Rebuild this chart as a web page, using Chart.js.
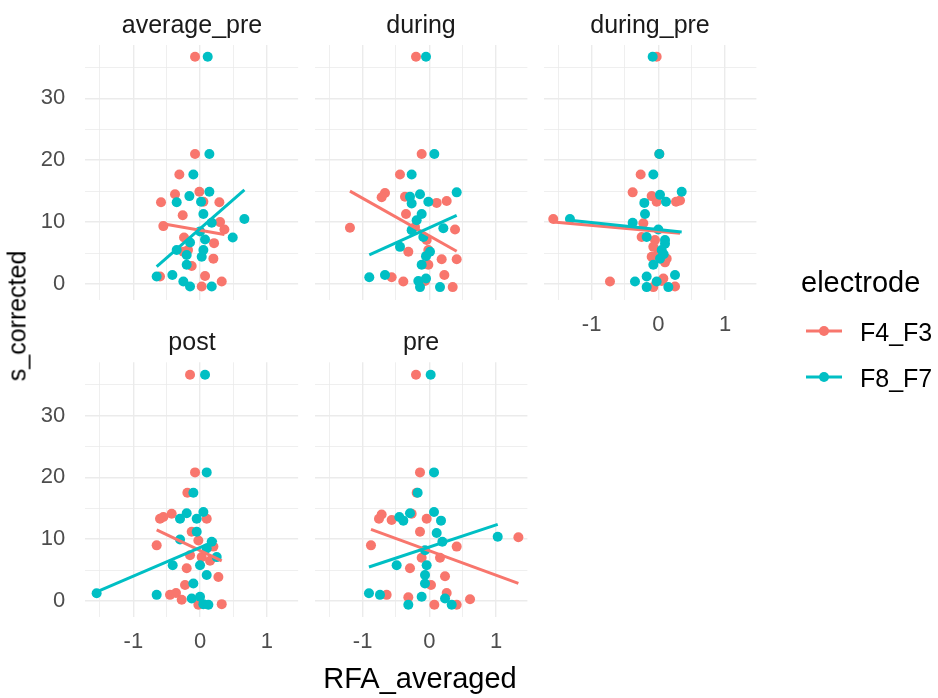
<!DOCTYPE html>
<html>
<head>
<meta charset="utf-8">
<script src="https://cdn.jsdelivr.net/npm/chart.js@4/dist/chart.umd.min.js"></script>
<style>
  html, body { margin: 0; padding: 0; background: #ffffff; }
  #wrap { position: relative; width: 938px; height: 698px; overflow: hidden; font-family: "Liberation Sans", Arial, sans-serif; }
  #wrap canvas { position: absolute; left: 0; top: 0; }
  .txt { position: absolute; white-space: nowrap; transform: translate(-50%, -50%); line-height: 1; }
  .strip { font-size: 25px; color: #1a1a1a; }
  .title { font-size: 29px; color: #000000; }
  .ltxt { position: absolute; white-space: nowrap; color: #000000; line-height: 1; transform: translateY(-50%); }
  .lsmall { font-size: 25px; }
  .key { position: absolute; height: 3px; width: 36px; transform: translateY(-50%); }
  .dot { position: absolute; width: 10px; height: 10px; border-radius: 50%; transform: translate(-50%, -50%); }
</style>
</head>
<body>
<div id="wrap">
  <canvas id="p_average_pre" width="938" height="698"></canvas>
  <canvas id="p_during" width="938" height="698"></canvas>
  <canvas id="p_during_pre" width="938" height="698"></canvas>
  <canvas id="p_post" width="938" height="698"></canvas>
  <canvas id="p_pre" width="938" height="698"></canvas>

  <div class="txt strip" style="left:192px; top:24px;">average_pre</div>
  <div class="txt strip" style="left:421px; top:24px;">during</div>
  <div class="txt strip" style="left:650px; top:24px;">during_pre</div>
  <div class="txt strip" style="left:192px; top:341px;">post</div>
  <div class="txt strip" style="left:421px; top:341px;">pre</div>

  <div class="txt title" style="left:420px; top:678px;">RFA_averaged</div>
  <div class="txt title" style="left:17px; top:316px; font-size:25px; transform: translate(-50%, -50%) rotate(-90deg);">s_corrected</div>

  <div class="ltxt title" style="left:801px; top:282px;">electrode</div>
  <div class="key" style="left:806px; top:331px; background:#F8766D;"></div>
  <div class="dot" style="left:824px; top:331px; background:#F8766D;"></div>
  <div class="ltxt lsmall" style="left:860px; top:332px;">F4_F3</div>
  <div class="key" style="left:806px; top:377px; background:#00BFC4;"></div>
  <div class="dot" style="left:824px; top:377px; background:#00BFC4;"></div>
  <div class="ltxt lsmall" style="left:860px; top:378px;">F8_F7</div>
</div>

<script>
// Axis set-up shared by every facet
const xGridValues = [-1.5, -1, -0.5, 0, 0.5, 1];
const xTickLabels = [-1, 0, 1];
const yGridValues = [0, 5, 10, 15, 20, 25, 30, 35];
const yTickLabels = [0, 10, 20, 30];
const xRange = [-1.72, 1.47];
const yRange = [-2.5, 38.6];

// RFA_averaged vs s_corrected, one list of [x, y] per facet and electrode
const average_pre_F4_F3 = [[-0.075,36.7],[-0.075,21.0],[-0.31,17.7],[-0.375,14.5],[-0.01,14.9],[-0.585,13.2],[0.29,13.2],[0.05,13.3],[-0.26,11.1],[-0.55,9.35],[0.3,10.0],[0.365,8.8],[-0.24,7.5],[0.21,6.6],[-0.25,5.2],[-0.18,5.5],[0.2,4.1],[-0.125,2.9],[0.075,1.3],[-0.6,1.2],[0.325,0.4],[0.025,-0.4]];
const average_pre_F8_F7 = [[0.115,36.7],[0.14,21.0],[-0.1,17.7],[-0.35,13.2],[-0.16,14.2],[0.14,14.9],[0.015,13.3],[0.05,11.3],[0.665,10.5],[0.175,9.9],[0.49,7.5],[0.075,7.2],[-0.35,5.5],[0.05,5.5],[-0.2,4.7],[0.025,4.4],[-0.2,3.1],[-0.65,1.2],[-0.415,1.45],[-0.25,0.4],[-0.15,-0.4],[0.175,-0.4],[0.0,8.5],[-0.15,6.7]];

const during_F4_F3 = [[-0.2,36.7],[-0.115,21.0],[-0.44,17.7],[-0.665,14.7],[-0.715,14.0],[-0.365,14.1],[0.11,13.1],[0.26,13.4],[-0.35,11.3],[-1.19,9.1],[-0.215,9.2],[0.385,8.8],[-0.04,7.1],[-0.315,5.2],[-0.015,5.5],[0.185,4.0],[0.41,4.0],[-0.015,3.1],[0.225,1.45],[-0.565,1.1],[-0.39,0.4],[-0.065,0.5],[0.35,-0.5]];
const during_F8_F7 = [[-0.05,36.7],[0.075,21.0],[-0.265,17.7],[0.41,14.8],[-0.29,14.1],[-0.14,14.5],[-0.015,13.3],[-0.265,13.0],[-0.115,11.3],[-0.19,10.3],[0.21,9.0],[-0.265,8.7],[-0.09,7.6],[-0.44,6.0],[0.01,5.2],[-0.05,4.5],[-0.115,3.1],[-0.9,1.1],[-0.665,1.45],[-0.165,0.5],[-0.05,0.9],[-0.14,-0.5],[0.16,-0.5]];

const during_pre_F4_F3 = [[-0.025,36.7],[0.015,21.0],[-0.265,17.7],[-0.385,14.8],[-0.1,14.2],[-0.025,13.3],[0.265,13.3],[0.325,13.5],[-1.575,10.5],[-0.225,9.8],[-0.25,7.6],[-0.05,7.1],[-0.075,6.0],[-0.1,4.4],[0.125,4.1],[-0.725,0.4],[-0.075,-0.5],[0.075,0.9],[0.25,-0.4],[0.05,0.5],[0.1,3.5],[0.0,5.0]];
const during_pre_F8_F7 = [[-0.085,36.7],[0.015,21.0],[-0.075,17.7],[0.35,14.9],[0.025,14.4],[0.115,13.3],[-0.21,13.1],[-0.2,11.3],[-1.325,10.5],[-0.385,9.9],[0.0,8.8],[-0.175,7.6],[0.1,7.1],[0.05,5.5],[0.025,4.1],[-0.075,3.1],[-0.35,0.4],[-0.175,1.2],[0.25,1.45],[-0.175,-0.5],[-0.025,0.4],[0.15,-0.5],[0.1,6.5],[0.08,4.8]];

const post_F4_F3 = [[-0.15,36.6],[-0.075,20.8],[-0.19,17.5],[-0.6,13.3],[-0.425,14.1],[0.1,13.3],[-0.125,11.2],[-0.65,9.0],[-0.025,9.8],[0.2,8.8],[-0.15,7.4],[0.025,7.1],[-0.2,5.3],[0.275,3.9],[-0.225,2.6],[-0.45,1.0],[-0.36,1.3],[-0.275,0.2],[0.325,-0.5],[-0.025,-0.6],[-0.55,13.6],[0.15,6.5]];
const post_F8_F7 = [[0.075,36.6],[0.1,20.8],[-0.1,17.5],[-0.2,14.2],[0.05,14.4],[-0.3,13.3],[-0.05,13.3],[-0.05,11.2],[-0.3,9.95],[0.175,9.6],[0.25,7.1],[-0.41,5.8],[0.0,5.8],[0.1,4.2],[-0.1,2.85],[-1.55,1.25],[-0.65,1.0],[-0.125,0.4],[0.0,0.7],[0.05,-0.5],[0.125,-0.6],[0.1,8.5]];

const pre_F4_F3 = [[-0.2,36.6],[-0.14,20.8],[-0.19,17.5],[-0.715,14.0],[-0.755,13.3],[-0.565,13.1],[-0.265,14.1],[-0.04,13.3],[-0.14,11.2],[-0.875,9.0],[0.41,8.8],[1.335,10.3],[-0.115,7.0],[0.16,7.0],[-0.29,5.3],[0.235,4.0],[0.025,2.6],[-0.64,1.0],[-0.315,0.6],[0.26,1.3],[0.61,0.3],[0.075,-0.6],[0.41,-0.6]];
const pre_F8_F7 = [[0.02,36.6],[0.07,20.8],[-0.175,17.5],[-0.29,14.2],[-0.39,13.0],[0.07,14.4],[0.175,13.0],[0.11,11.0],[1.025,10.4],[0.195,9.6],[-0.065,8.2],[-0.49,5.8],[-0.04,5.8],[-0.065,4.2],[-0.065,2.85],[-0.905,1.25],[-0.74,1.0],[-0.115,0.7],[0.235,0.4],[-0.315,-0.6],[0.335,-0.6],[-0.45,13.6]];

// Linear-fit segments (end points) per facet and electrode
const average_pre_fit_F4_F3 = [[-0.6,9.8],[0.365,8.0]];
const average_pre_fit_F8_F7 = [[-0.65,2.8],[0.665,15.2]];
const during_fit_F4_F3 = [[-1.19,15.0],[0.41,5.3]];
const during_fit_F8_F7 = [[-0.9,4.7],[0.41,11.1]];
const during_pre_fit_F4_F3 = [[-1.575,10.0],[0.325,8.2]];
const during_pre_fit_F8_F7 = [[-1.325,10.3],[0.35,8.4]];
const post_fit_F4_F3 = [[-0.65,11.5],[0.325,6.5]];
const post_fit_F8_F7 = [[-1.55,1.5],[0.25,9.8]];
const pre_fit_F4_F3 = [[-0.875,11.6],[1.335,2.85]];
const pre_fit_F8_F7 = [[-0.905,5.5],[1.025,12.4]];

const RED = '#F8766D';
const TEAL = '#00BFC4';
const GRID = '#ebebeb';
const W = 938, H = 698;
const FONT = '"Liberation Sans", Arial, sans-serif';
const Y_AXIS_W = 70;   // room kept for y tick labels
const X_AXIS_H = 45;   // room kept for x tick labels

const toPts = arr => arr.map(p => ({ x: p[0], y: p[1] }));

function drawPanel(id, area, showX, showY, f4, f8, fit4, fit8) {
  const lineDs = (d, c) => ({ data: toPts(d), showLine: true, borderColor: c, borderWidth: 3, pointRadius: 0, pointHoverRadius: 0, fill: false, tension: 0 });
  const ptDs = (d, c) => ({ data: toPts(d), showLine: false, pointRadius: 5, pointHoverRadius: 5, pointBackgroundColor: c, pointBorderWidth: 0, borderColor: c });
  new Chart(document.getElementById(id), {
    type: 'scatter',
    data: { datasets: [lineDs(fit8, TEAL), lineDs(fit4, RED), ptDs(f8, TEAL), ptDs(f4, RED)] },
    options: {
      responsive: false,
      animation: false,
      devicePixelRatio: 1,
      events: [],
      layout: { padding: { left: area.left - Y_AXIS_W, top: area.top, right: W - area.right, bottom: H - area.bottom - X_AXIS_H } },
      plugins: { legend: { display: false }, tooltip: { enabled: false } },
      scales: {
        x: {
          type: 'linear', min: xRange[0], max: xRange[1],
          afterBuildTicks: s => { s.ticks = xGridValues.map(v => ({ value: v })); },
          afterFit: s => { s.height = X_AXIS_H; },
          border: { display: false },
          grid: { color: GRID, drawTicks: false, lineWidth: c => (xTickLabels.includes(c.tick && c.tick.value) ? 1.4 : 0.8) },
          ticks: { display: showX, padding: 12, color: '#4d4d4d', maxRotation: 0, autoSkip: false, font: { family: FONT, size: 22 },
                   callback: v => (xTickLabels.includes(v) ? String(v) : '') }
        },
        y: {
          type: 'linear', min: yRange[0], max: yRange[1],
          afterBuildTicks: s => { s.ticks = yGridValues.map(v => ({ value: v })); },
          afterFit: s => { s.width = Y_AXIS_W; },
          border: { display: false },
          grid: { color: GRID, drawTicks: false, lineWidth: c => (yTickLabels.includes(c.tick && c.tick.value) ? 1.4 : 0.8) },
          ticks: { display: showY, padding: 20, color: '#4d4d4d', autoSkip: false, font: { family: FONT, size: 22 },
                   callback: v => (yTickLabels.includes(v) ? String(v) : '') }
        }
      }
    }
  });
}

const colLeft = [85.3, 314.6, 543.6];
const panelW = 212.8;
const rowTop = [45, 362.3];
const rowBottom = [299.5, 616.5];
const box = (c, r) => ({ left: colLeft[c], right: colLeft[c] + panelW, top: rowTop[r], bottom: rowBottom[r] });

drawPanel('p_average_pre', box(0, 0), false, true, average_pre_F4_F3, average_pre_F8_F7, average_pre_fit_F4_F3, average_pre_fit_F8_F7);
drawPanel('p_during', box(1, 0), false, false, during_F4_F3, during_F8_F7, during_fit_F4_F3, during_fit_F8_F7);
drawPanel('p_during_pre', box(2, 0), true, false, during_pre_F4_F3, during_pre_F8_F7, during_pre_fit_F4_F3, during_pre_fit_F8_F7);
drawPanel('p_post', box(0, 1), true, true, post_F4_F3, post_F8_F7, post_fit_F4_F3, post_fit_F8_F7);
drawPanel('p_pre', box(1, 1), true, false, pre_F4_F3, pre_F8_F7, pre_fit_F4_F3, pre_fit_F8_F7);
</script>
</body>
</html>
